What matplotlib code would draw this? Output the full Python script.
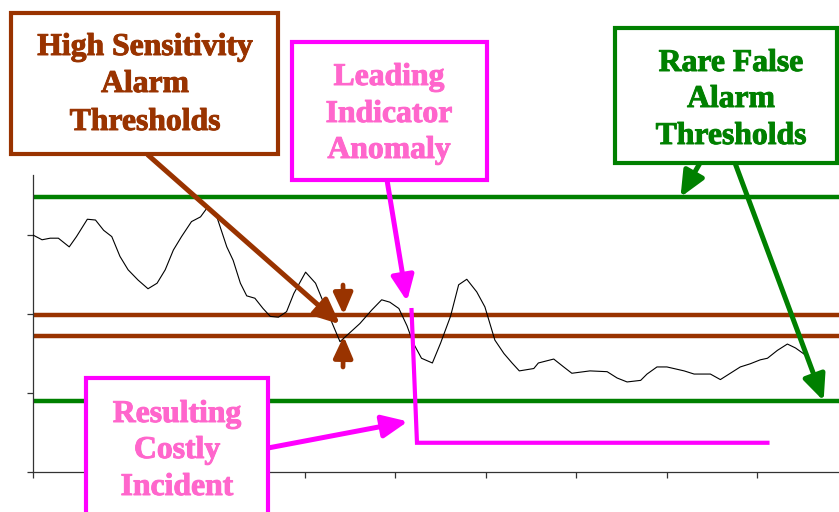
import matplotlib
matplotlib.use("Agg")
import matplotlib.pyplot as plt
import matplotlib.patheffects as pe
from matplotlib.patches import Rectangle

# monitored signal, x and y in axis tick units
t = [0.0, 0.10, 0.19, 0.28, 0.40, 0.48, 0.60, 0.69, 0.78, 0.87, 0.96, 1.05, 1.16, 1.27,
     1.37, 1.46, 1.55, 1.64, 1.75, 1.85, 1.92, 2.03, 2.14, 2.21, 2.29, 2.36, 2.45, 2.54,
     2.62, 2.71, 2.80, 2.88, 3.01, 3.12, 3.21, 3.32, 3.39, 3.61, 3.74, 3.85, 3.94, 4.04,
     4.13, 4.20, 4.29, 4.41, 4.50, 4.61, 4.70, 4.79, 4.90, 4.99, 5.10, 5.20, 5.29, 5.37,
     5.53, 5.58, 5.75, 5.86, 5.95, 6.15, 6.34, 6.45, 6.56, 6.71, 6.78, 6.89, 7.00, 7.19,
     7.30, 7.48, 7.59, 7.70, 7.81, 7.92, 8.03, 8.11, 8.22, 8.33, 8.42, 8.53]
signal = [3.00, 2.94, 2.96, 2.96, 2.85, 2.98, 3.20, 3.19, 3.06, 2.98, 2.73, 2.56, 2.43, 2.32,
          2.39, 2.56, 2.81, 2.98, 3.17, 3.23, 3.34, 3.23, 2.85, 2.68, 2.39, 2.23, 2.20, 2.07,
          1.97, 1.96, 2.03, 2.26, 2.53, 2.39, 2.14, 1.84, 1.65, 1.88, 2.05, 2.18, 2.15, 2.07,
          1.85, 1.63, 1.44, 1.38, 1.63, 1.97, 2.37, 2.44, 2.28, 2.09, 1.67, 1.50, 1.38, 1.28,
          1.31, 1.38, 1.43, 1.33, 1.25, 1.28, 1.27, 1.19, 1.14, 1.16, 1.24, 1.33, 1.33, 1.28,
          1.24, 1.24, 1.17, 1.25, 1.33, 1.37, 1.42, 1.44, 1.54, 1.62, 1.57, 1.48]

high_sens = [1.99, 1.72]     # brown thresholds
rare_false = [3.48, 0.90]    # green thresholds

incident_x = [4.18, 4.24, 8.11]
incident_y = [2.05, 0.37, 0.37]

x_ticks = list(range(9))
y_ticks = [0, 1, 2, 3]

BROWN = "#993300"
GREEN = "#008000"
MAGENTA = "#FF00FF"
PINK_TXT = "#FF66CC"

W, H = 839, 512
fig = plt.figure(figsize=(W / 100, H / 100), dpi=100)
ax = fig.add_axes([33 / W, 40 / H, 806 / W, 297 / H])
ax.set_xlim(0, 8.9)
ax.set_ylim(0, 3.76)

for s in ["top", "right"]:
    ax.spines[s].set_visible(False)
for s in ["left", "bottom"]:
    ax.spines[s].set_color("#333333")
    ax.spines[s].set_linewidth(0.9)
ax.set_xticks(x_ticks)
ax.set_yticks(y_ticks)
ax.tick_params(length=4, width=0.9, color="#333333", labelleft=False, labelbottom=False)

ax.plot(t, signal, color="black", lw=0.8, zorder=3)
for y in rare_false:
    ax.axhline(y, color=GREEN, lw=3.2, zorder=2)
for y in high_sens:
    ax.axhline(y, color=BROWN, lw=3.2, zorder=2)
ax.plot(incident_x, incident_y, color=MAGENTA, lw=3, zorder=4, solid_joinstyle="miter")


def px(x, y):
    # image pixel (top-left origin) -> figure fraction
    return x / W, 1 - y / H


def box(x0, y0, x1, y1, color, lw=3):
    fx, fy = px(x0, y1)
    fig.add_artist(Rectangle((fx, fy), (x1 - x0) / W, (y1 - y0) / H, transform=fig.transFigure,
                             facecolor="white", edgecolor=color, lw=lw, zorder=5,
                             joinstyle="miter"))


def lines(xc, baselines, words, color):
    for yb, w in zip(baselines, words):
        fig.text(*px(xc, yb), w, ha="center", va="baseline", fontsize=22.8,
                 fontweight="bold", family="Liberation Serif", color=color, zorder=6,
                 path_effects=[pe.withStroke(linewidth=0.7, foreground=color)])


def arrow(tip, start, color, scale=18, lw=3.6):
    ax.annotate("", xy=tip, xycoords="data", xytext=px(*start), textcoords="figure fraction",
                arrowprops=dict(arrowstyle="-|>,head_length=0.85,head_width=0.38", color=color,
                                lw=lw, mutation_scale=scale, shrinkA=0, shrinkB=0),
                annotation_clip=False, zorder=5)


# arrows
arrow((3.39, 1.87), (148, 155), BROWN)
arrow((3.43, high_sens[0]), (343, 285), BROWN, scale=15, lw=3.4)
arrow((3.43, high_sens[1]), (343, 367), BROWN, scale=15, lw=3.4)
arrow((4.13, 2.16), (387, 180), MAGENTA)
arrow((4.14, 0.64), (268, 448), MAGENTA)
arrow((7.15, rare_false[0]), (700, 163), GREEN)
arrow((8.73, rare_false[1]), (735, 163), GREEN)

# call-out boxes
box(11, 13, 278, 154, BROWN)
lines(145, [55, 92, 130], ["High Sensitivity", "Alarm", "Thresholds"], BROWN)
box(292, 42, 487, 180, MAGENTA)
lines(389, [85, 122, 158], ["Leading", "Indicator", "Anomaly"], PINK_TXT)
box(615, 28, 837, 163, GREEN)
lines(731, [71, 107, 144], ["Rare False", "Alarm", "Thresholds"], GREEN)
box(86, 378, 268, 525, MAGENTA)
lines(177, [422, 458, 495], ["Resulting", "Costly", "Incident"], PINK_TXT)

fig.savefig("out.png", dpi=100)
